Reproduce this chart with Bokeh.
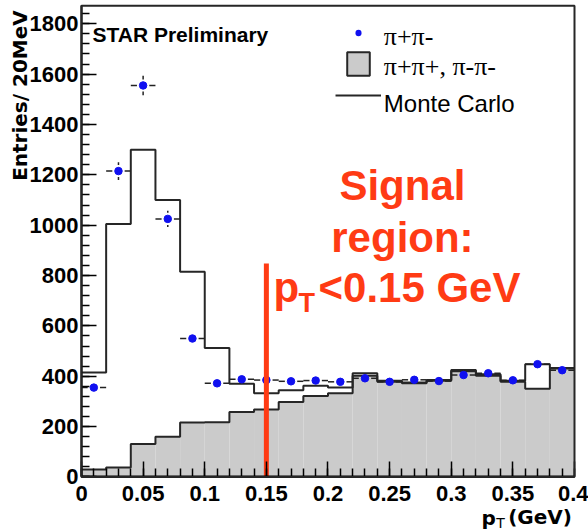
import numpy as np
from bokeh.plotting import figure
from bokeh.models import FixedTicker, Label, BoxAnnotation
from bokeh.embed import file_html
from bokeh.resources import INLINE

# ---------------- data ----------------
bin_edges = [0.00, 0.02, 0.04, 0.06, 0.08, 0.10, 0.12, 0.14, 0.16, 0.18, 0.20,
             0.22, 0.24, 0.26, 0.28, 0.30, 0.32, 0.34, 0.36, 0.38, 0.40]
pt_centers = [0.01, 0.03, 0.05, 0.07, 0.09, 0.11, 0.13, 0.15, 0.17, 0.19,
              0.21, 0.23, 0.25, 0.27, 0.29, 0.31, 0.33, 0.35, 0.37, 0.39]
unlike_sign = [355, 1215, 1555, 1025, 550, 372, 388, 385, 380, 383,
               378, 392, 378, 386, 381, 405, 412, 384, 448, 424]
unlike_err = [19, 35, 39, 32, 23, 19, 20, 20, 19, 20,
              19, 20, 19, 20, 20, 20, 20, 20, 21, 21]
like_sign = [30, 38, 131, 160, 216, 217, 258, 268, 298, 322,
             333, 402, 378, 372, 382, 420, 402, 378, 350, 431]
monte_carlo = [415, 1005, 1300, 1100, 815, 512, 370, 333, 345, 362,
               355, 412, 382, 375, 385, 425, 408, 382, 448, 433]
signal_cut = 0.15

x_ticks = [0, 0.05, 0.1, 0.15, 0.2, 0.25, 0.3, 0.35, 0.4]
x_tick_labels = ["0", "0.05", "0.1", "0.15", "0.2", "0.25", "0.3", "0.35", "0.4"]
y_ticks = [0, 200, 400, 600, 800, 1000, 1200, 1400, 1600, 1800]
y_tick_labels = ["0", "200", "400", "600", "800", "1000", "1200", "1400", "1600", "1800"]

X_MIN, X_MAX = 0.0, 0.4      # histogram frame
Y_MIN, Y_MAX = 0.0, 1872.0

# ---------------- figure ----------------
p = figure(width=588, height=530, x_range=(-0.06572, 0.41136), y_range=(-212.5, 1892.4),
           output_backend="svg", toolbar_location=None, title=None)
p.min_border_left = 0
p.min_border_right = 0
p.min_border_top = 0
p.min_border_bottom = 0
p.background_fill_color = "white"
p.border_fill_color = "white"
p.grid.visible = False
p.outline_line_color = None

edges = np.array(bin_edges)
cent = np.array(pt_centers)
vals = np.array(unlike_sign, dtype=float)
errs = np.array(unlike_err, dtype=float)
ls = np.array(like_sign, dtype=float)
mc = np.array(monte_carlo, dtype=float)

ink = "#262626"
# like-sign filled histogram
p.quad(left=edges[:-1], right=edges[1:], bottom=0, top=ls,
       fill_color="#cbcbcb", line_color=None)
# Monte Carlo step line
p.step(x=edges, y=np.append(mc, mc[-1]), mode="after", line_color=ink, line_width=2)
# like-sign outline
p.step(x=edges, y=np.append(ls, ls[-1]), mode="after", line_color=ink, line_width=2)

# data error bars (with gaps around the marker)
xgap = 0.005
ygap = 24
p.segment(x0=edges[:-1], y0=vals, x1=cent - xgap, y1=vals, line_color="#222222", line_width=1.5)
p.segment(x0=cent + xgap, y0=vals, x1=edges[1:], y1=vals, line_color="#222222", line_width=1.5)
p.segment(x0=cent, y0=vals - errs, x1=cent, y1=vals - np.minimum(errs, ygap),
          line_color="#222222", line_width=1.5)
p.segment(x0=cent, y0=vals + errs, x1=cent, y1=vals + np.minimum(errs, ygap),
          line_color="#222222", line_width=1.5)
p.scatter(cent, vals, size=7.5, fill_color="#1010f0", line_color="#1010f0")

# signal region cut line
p.segment(x0=[signal_cut], y0=[0], x1=[signal_cut], y1=[848],
          line_color="#ff3b14", line_width=5)

# frame box (ROOT style)
p.add_layout(BoxAnnotation(left=X_MIN, right=X_MAX, bottom=Y_MIN, top=Y_MAX,
                           fill_alpha=0, line_color=ink, line_alpha=1, line_width=2))

# ---------------- axes (fixed at the origin) ----------------
x_minor = list(np.round(np.arange(0, 0.4001, 0.01), 2))
y_minor = list(np.arange(0, 1861, 40))
p.xaxis.fixed_location = 0
p.yaxis.fixed_location = 0
p.xaxis.bounds = (X_MIN, X_MAX)
p.yaxis.bounds = (Y_MIN, Y_MAX)
p.xaxis.ticker = FixedTicker(ticks=x_ticks, minor_ticks=x_minor)
p.yaxis.ticker = FixedTicker(ticks=y_ticks, minor_ticks=y_minor)
p.xaxis.major_label_overrides = dict(zip(x_ticks, x_tick_labels))
p.yaxis.major_label_overrides = dict(zip(y_ticks, y_tick_labels))
for ax in (p.xaxis, p.yaxis):
    ax.axis_line_width = 2
    ax.axis_line_color = "black"
    ax.major_tick_in = 15
    ax.major_tick_out = 0
    ax.minor_tick_in = 8
    ax.minor_tick_out = 0
    ax.major_tick_line_width = 1.5
    ax.minor_tick_line_width = 1.5
    ax.major_tick_line_color = "black"
    ax.minor_tick_line_color = "black"
    ax.major_label_text_font = "Liberation Sans"
    ax.major_label_text_font_style = "bold"
    ax.major_label_text_font_size = "22px"
    ax.major_label_text_color = "black"
p.yaxis.major_label_standoff = 3
p.xaxis.major_label_standoff = 9

# axis titles
p.add_layout(Label(x=-0.0503, y=1515, text="Entries/ 20MeV", angle=np.pi / 2,
                   text_align="center", text_baseline="middle",
                   text_font="DejaVu Sans", text_font_style="bold",
                   text_font_size="20px", text_color="black"))
p.add_layout(Label(x=0.3245, y=-161, text="p", text_align="left",
                   text_baseline="alphabetic", text_font="DejaVu Sans",
                   text_font_style="bold", text_font_size="20px", text_color="black"))
p.add_layout(Label(x=0.3365, y=-181, text="T", text_align="left",
                   text_baseline="alphabetic", text_font="DejaVu Sans",
                   text_font_size="14px", text_color="black"))
p.add_layout(Label(x=0.3462, y=-157, text="(GeV)", text_align="left",
                   text_baseline="alphabetic", text_font="DejaVu Sans",
                   text_font_style="bold", text_font_size="20px", text_color="black"))

# STAR Preliminary
p.add_layout(Label(x=0.0089, y=1756, text="STAR Preliminary", text_align="left",
                   text_baseline="alphabetic", text_font="Liberation Sans",
                   text_font_style="bold", text_font_size="21px", text_color="black"))

# ---------------- legend (manual) ----------------
p.add_layout(BoxAnnotation(left=0.2223, right=0.2272, bottom=1750, top=1776,
                           fill_color="#1010f0", fill_alpha=1, line_color=None,
                           border_radius=3))
p.add_layout(Label(x=0.2453, y=1749, text="π+π-", text_align="left",
                   text_baseline="alphabetic", text_font="Liberation Serif",
                   text_font_size="26px", text_color="black"))
p.add_layout(BoxAnnotation(left=0.2156, right=0.2339, bottom=1594, top=1687,
                           fill_color="#cbcbcb", fill_alpha=1, line_color=ink,
                           line_alpha=1, line_width=2))
p.add_layout(Label(x=0.2453, y=1632, text="π+π+, π-π-", text_align="left",
                   text_baseline="alphabetic", text_font="Liberation Serif",
                   text_font_size="26px", text_color="black"))
p.add_layout(BoxAnnotation(left=0.2061, right=0.2430, bottom=1511, top=1519,
                           fill_color=ink, fill_alpha=1, line_color=None))
p.add_layout(Label(x=0.2453, y=1482, text="Monte Carlo", text_align="left",
                   text_baseline="alphabetic", text_font="Liberation Sans",
                   text_font_size="24px", text_color="black"))

# ---------------- signal region annotation ----------------
red = "#ff3b14"
p.add_layout(Label(x=0.2604, y=1158, text="Signal", text_align="center",
                   text_baseline="alphabetic", text_font="Liberation Sans",
                   text_font_style="bold", text_font_size="42px", text_color=red))
p.add_layout(Label(x=0.2604, y=951, text="region:", text_align="center",
                   text_baseline="alphabetic", text_font="Liberation Sans",
                   text_font_style="bold", text_font_size="42px", text_color=red))
p.add_layout(Label(x=0.1558, y=753, text="p", text_align="left",
                   text_baseline="alphabetic", text_font="Liberation Sans",
                   text_font_style="bold", text_font_size="42px", text_color=red))
p.add_layout(Label(x=0.1761, y=693, text="T", text_align="left",
                   text_baseline="alphabetic", text_font="Liberation Sans",
                   text_font_style="bold", text_font_size="27px", text_color=red))
p.add_layout(Label(x=0.1923, y=753, text="<0.15 GeV", text_align="left",
                   text_baseline="alphabetic", text_font="Liberation Sans",
                   text_font_style="bold", text_font_size="42px", text_color=red))

open("out.html", "w").write(file_html(p, INLINE))
